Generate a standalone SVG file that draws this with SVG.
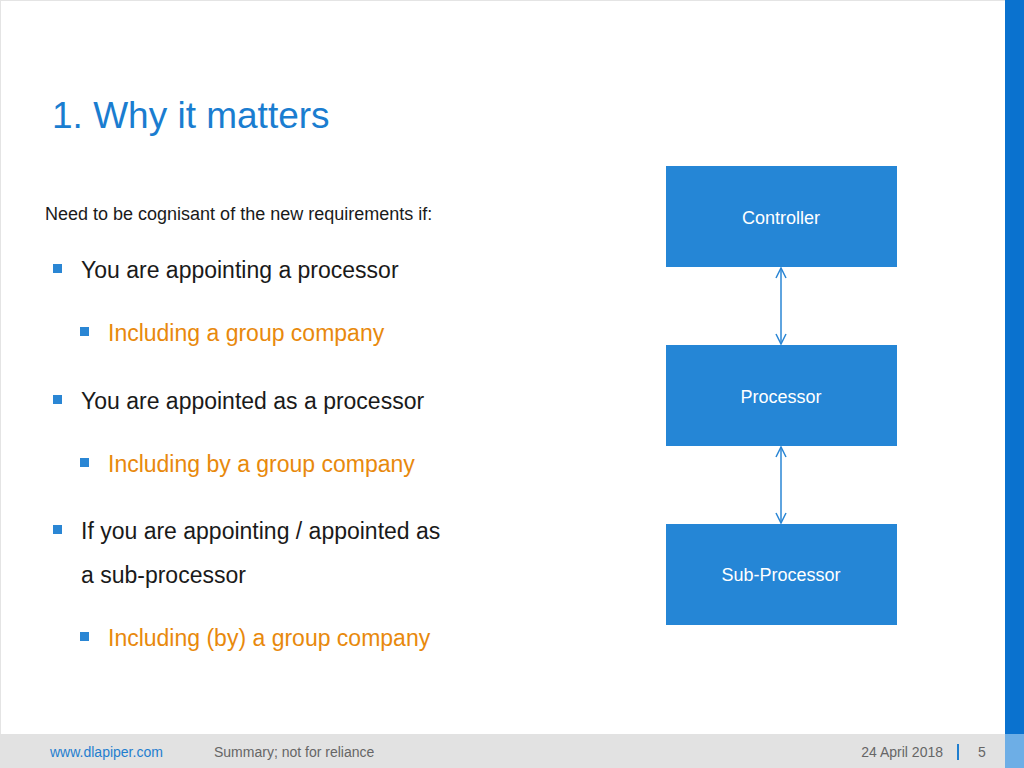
<svg xmlns="http://www.w3.org/2000/svg" width="1024" height="768" viewBox="0 0 1024 768">
<style>
text{font-family:"Liberation Sans",Arial,sans-serif}
.b{font-size:23px;fill:#1a1a1a}
.o{font-size:23px;fill:#e8890c}
.sq{fill:#2a86d4}
.node{fill:#2586d6}
.nl{font-size:18px;fill:#ffffff;text-anchor:middle}
.c{stroke:#2a86d4;stroke-width:1.5;fill:none}
</style>
<defs>
<marker id="a" viewBox="0 0 12 12" refX="11" refY="6" markerWidth="12" markerHeight="12" markerUnits="userSpaceOnUse" orient="auto-start-reverse">
<path d="M1,1 L11,6 L1,11" fill="none" stroke="#2a86d4" stroke-width="1.5"/>
</marker>
</defs>
<rect x="0" y="0" width="1024" height="768" fill="#ffffff"/>
<rect x="0.5" y="0.5" width="1005" height="734" fill="none" stroke="#e4e4e4"/>
<rect x="1005" y="0" width="19" height="734" fill="#0a72cf"/>
<rect x="1005" y="734" width="19" height="34" fill="#6daee6"/>
<rect x="0" y="734" width="1005" height="34" fill="#e2e2e2"/>
<text x="50" y="757" font-size="14" fill="#1f7ecf">www.dlapiper.com</text>
<text x="214" y="757" font-size="14" fill="#666">Summary; not for reliance</text>
<text x="943" y="757" font-size="14" fill="#666" text-anchor="end">24 April 2018</text>
<rect x="957" y="744" width="2" height="16" fill="#1f7ecf"/>
<text x="978" y="757" font-size="14" fill="#666">5</text>
<text x="52" y="128" font-size="37" fill="#1a7dd0">1. Why it matters</text>
<text x="45" y="220" font-size="18" fill="#1a1a1a">Need to be cognisant of the new requirements if:</text>
<rect class="sq" x="53" y="264" width="9" height="9"/>
<text class="b" x="81" y="278">You are appointing a processor</text>
<rect class="sq" x="80" y="327" width="9" height="9"/>
<text class="o" x="108" y="341">Including a group company</text>
<rect class="sq" x="53" y="395" width="9" height="9"/>
<text class="b" x="81" y="409">You are appointed as a processor</text>
<rect class="sq" x="80" y="458" width="9" height="9"/>
<text class="o" x="108" y="472">Including by a group company</text>
<rect class="sq" x="53" y="525" width="9" height="9"/>
<text class="b" x="81" y="539">If you are appointing / appointed as</text>
<text class="b" x="81" y="583">a sub-processor</text>
<rect class="sq" x="80" y="632" width="9" height="9"/>
<text class="o" x="108" y="646">Including (by) a group company</text>
<g id="controller"><rect class="node" x="666" y="166" width="231" height="101"/><text class="nl" x="781" y="224">Controller</text></g>
<g id="processor"><rect class="node" x="666" y="345" width="231" height="101"/><text class="nl" x="781" y="403">Processor</text></g>
<g id="subprocessor"><rect class="node" x="666" y="524" width="231" height="101"/><text class="nl" x="781" y="581">Sub-Processor</text></g>
<g id="connectors">
<line class="c" x1="781" y1="268" x2="781" y2="344" marker-start="url(#a)" marker-end="url(#a)"/>
<line class="c" x1="781" y1="447" x2="781" y2="523" marker-start="url(#a)" marker-end="url(#a)"/>
</g>
</svg>
